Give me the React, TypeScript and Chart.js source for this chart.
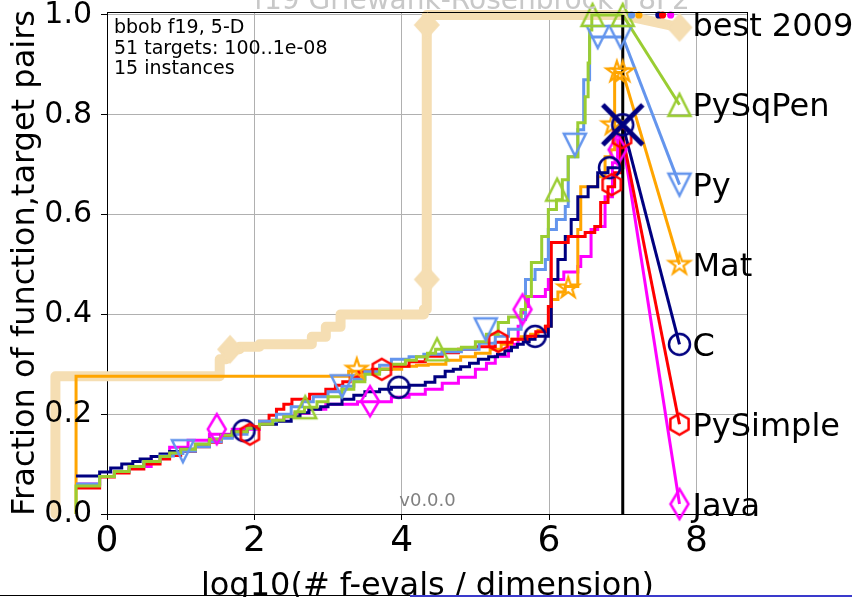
import React, { useEffect, useRef } from "react";
import { Chart, registerables } from "chart.js";

Chart.register(...registerables);

const FONT = '"DejaVu Sans", "Liberation Sans", sans-serif';

// ---- axes ----
const xTicks = [0, 2, 4, 6, 8];
const yTicks = [0, 0.2, 0.4, 0.6, 0.8, 1.0];
const X_MIN = 0;
const X_MAX = 8.7;
const Y_MIN = 0;
const Y_MAX = 1.006;
const BUDGET_X = 7.0;
const LABEL_X = 7.77;

// ---- series (log10 evals/dim, fraction) ----
const bestX = [-0.7, -0.7, 1.53, 1.62, 1.8, 2.07, 2.78, 2.97, 3.17, 4.3, 4.34, 7.0];
const bestY = [0, 0.276, 0.31, 0.33, 0.335, 0.34, 0.355, 0.375, 0.4, 0.41, 1.0, 1.0];
const bestMX = [1.67, 4.34, 4.34];
const bestMY = [0.33, 0.47, 0.98];

const pySqPenX = [-0.42, -0.42, -0.1, 0.1, 0.3, 0.5, 0.72, 0.85, 1.0, 1.2, 1.39, 1.55, 1.7, 1.9, 2.07, 2.25, 2.4, 2.55, 2.68, 2.85, 3.0, 3.19, 3.35, 3.5, 3.7, 3.86, 4.05, 4.2, 4.35, 4.46, 4.81, 5.0, 5.15, 5.31, 5.45, 5.62, 5.68, 5.76, 5.9, 5.99, 6.1, 6.18, 6.26, 6.39, 6.49, 6.53, 6.55, 6.58, 7.0];
const pySqPenY = [0, 0.056, 0.075, 0.085, 0.095, 0.105, 0.115, 0.122, 0.13, 0.14, 0.15, 0.158, 0.165, 0.172, 0.18, 0.188, 0.195, 0.205, 0.214, 0.225, 0.235, 0.25, 0.265, 0.28, 0.29, 0.3, 0.308, 0.315, 0.322, 0.33, 0.334, 0.345, 0.36, 0.384, 0.395, 0.41, 0.436, 0.504, 0.556, 0.61, 0.63, 0.67, 0.716, 0.784, 0.836, 0.904, 0.97, 1.0, 1.0];
const pySqPenMX = [2.69, 4.48, 6.11, 6.59, 7.0];
const pySqPenMY = [0.214, 0.33, 0.65, 1.0, 1.0];

const pyX = [-0.42, -0.1, 0.1, 0.3, 0.5, 0.72, 0.9, 1.03, 1.2, 1.39, 1.55, 1.7, 1.9, 2.07, 2.3, 2.5, 2.65, 2.8, 3.0, 3.19, 3.35, 3.5, 3.7, 3.86, 4.1, 4.3, 4.55, 4.81, 5.05, 5.27, 5.45, 5.62, 5.68, 5.81, 5.95, 5.99, 6.1, 6.22, 6.26, 6.39, 6.47, 6.55, 7.0];
const pyY = [0.06, 0.075, 0.085, 0.095, 0.105, 0.116, 0.121, 0.126, 0.135, 0.145, 0.152, 0.16, 0.172, 0.186, 0.2, 0.215, 0.225, 0.235, 0.245, 0.256, 0.27, 0.285, 0.298, 0.31, 0.315, 0.32, 0.325, 0.33, 0.342, 0.356, 0.37, 0.39, 0.47, 0.49, 0.51, 0.57, 0.59, 0.616, 0.716, 0.77, 0.87, 0.956, 0.956];
const pyMX = [1.03, 3.19, 5.14, 6.35, 6.66, 6.97];
const pyMY = [0.126, 0.256, 0.37, 0.74, 0.956, 0.956];

const matX = [-0.42, -0.42, 3.28, 3.5, 3.7, 4.0, 4.2, 4.36, 4.6, 4.8, 5.0, 5.2, 5.35, 5.49, 5.62, 5.75, 5.85, 5.95, 6.03, 6.12, 6.22, 6.39, 6.39, 6.43, 6.66, 6.76, 6.84, 6.89, 6.89, 7.0];
const matY = [0, 0.276, 0.286, 0.288, 0.29, 0.296, 0.298, 0.3, 0.308, 0.315, 0.322, 0.33, 0.34, 0.35, 0.355, 0.36, 0.368, 0.376, 0.43, 0.445, 0.456, 0.47, 0.57, 0.656, 0.676, 0.716, 0.73, 0.784, 0.885, 0.885];
const matMX = [3.39, 6.26, 6.86, 6.92, 7.0];
const matMY = [0.29, 0.453, 0.78, 0.886, 0.886];

const cX = [-0.42, -0.1, 0.05, 0.2, 0.35, 0.45, 0.6, 0.72, 0.85, 1.0, 1.2, 1.39, 1.55, 1.7, 1.9, 2.07, 2.3, 2.5, 2.62, 2.74, 2.9, 3.0, 3.19, 3.35, 3.5, 3.7, 3.86, 4.1, 4.32, 4.45, 4.59, 4.7, 4.8, 4.92, 5.04, 5.18, 5.3, 5.4, 5.49, 5.57, 5.65, 5.73, 5.81, 5.99, 6.03, 6.12, 6.22, 6.3, 6.39, 6.53, 6.66, 6.8, 7.0];
const cY = [0.076, 0.084, 0.092, 0.1, 0.105, 0.11, 0.115, 0.12, 0.125, 0.13, 0.14, 0.15, 0.158, 0.165, 0.172, 0.18, 0.186, 0.195, 0.203, 0.21, 0.215, 0.22, 0.23, 0.238, 0.245, 0.25, 0.254, 0.258, 0.264, 0.275, 0.286, 0.29, 0.295, 0.302, 0.31, 0.315, 0.32, 0.327, 0.334, 0.34, 0.345, 0.35, 0.356, 0.376, 0.47, 0.51, 0.556, 0.59, 0.636, 0.656, 0.684, 0.694, 0.78];
const cMX = [1.86, 3.96, 5.81, 6.82, 7.0];
const cMY = [0.167, 0.254, 0.356, 0.694, 0.78];

const pySimpleX = [-0.42, -0.1, 0.1, 0.3, 0.5, 0.72, 0.85, 1.0, 1.2, 1.39, 1.55, 1.7, 1.9, 2.07, 2.2, 2.3, 2.4, 2.51, 2.75, 2.97, 3.1, 3.2, 3.3, 3.42, 3.6, 3.86, 4.1, 4.32, 4.55, 4.77, 5.0, 5.27, 5.5, 5.7, 5.82, 5.95, 5.99, 6.03, 6.26, 6.49, 6.62, 6.7, 6.8, 6.89, 6.97, 7.0];
const pySimpleY = [0.052, 0.074, 0.082, 0.09, 0.1, 0.11, 0.117, 0.125, 0.135, 0.144, 0.155, 0.165, 0.175, 0.186, 0.198, 0.21, 0.22, 0.23, 0.24, 0.25, 0.258, 0.265, 0.275, 0.284, 0.29, 0.296, 0.305, 0.316, 0.323, 0.33, 0.335, 0.344, 0.35, 0.356, 0.365, 0.376, 0.416, 0.544, 0.556, 0.564, 0.576, 0.624, 0.656, 0.684, 0.756, 0.756];
const pySimpleMX = [1.94, 3.73, 5.31, 6.85, 6.99];
const pySimpleMY = [0.16, 0.29, 0.346, 0.66, 0.754];

const javaX = [-0.42, -0.1, 0.1, 0.3, 0.6, 0.85, 1.1, 1.39, 1.7, 2.07, 2.25, 2.4, 2.55, 2.74, 2.97, 3.4, 3.86, 4.1, 4.32, 4.55, 4.77, 5.0, 5.15, 5.27, 5.45, 5.58, 5.62, 5.68, 5.72, 5.95, 5.99, 6.2, 6.39, 6.43, 6.57, 6.66, 6.76, 6.86, 6.93, 7.0];
const javaY = [0.06, 0.075, 0.085, 0.095, 0.115, 0.134, 0.148, 0.16, 0.17, 0.18, 0.188, 0.195, 0.202, 0.21, 0.22, 0.225, 0.234, 0.24, 0.25, 0.262, 0.274, 0.29, 0.302, 0.316, 0.34, 0.376, 0.404, 0.416, 0.436, 0.45, 0.47, 0.485, 0.496, 0.516, 0.57, 0.576, 0.636, 0.704, 0.75, 0.75];
const javaMX = [1.49, 3.57, 5.64, 6.93];
const javaMY = [0.17, 0.226, 0.41, 0.73];

// cross marker on C at the budget
const crossX = [7.0];
const crossY = [0.78];

// small dots on the top edge
const dotX = [7.12, 7.22, 7.49, 7.54, 7.65];
const dotY = [1.0, 1.0, 1.0, 1.0, 1.0];

// right-hand labels
const labelNames = ["best 2009", "PySqPen", "Py", "Mat", "C", "PySimple", "Java"];
const labelYs = [0.98, 0.82, 0.66, 0.5, 0.34, 0.18, 0.02];

const infoLines = ["bbob f19, 5-D", "51 targets: 100..1e-08", "15 instances"];

const WHEAT = "#F5DEB3";
const GREEN = "#9ACD32";
const BLUE = "#6495ED";
const ORANGE = "#FFA500";
const NAVY = "#000080";
const RED = "#FF0000";
const MAGENTA = "#FF00FF";

function marker(kind: string, color: string, size: number, lw: number, fill = ""): HTMLCanvasElement {
  const pad = Math.ceil(lw) + 3;
  const dim = Math.ceil(size + 2 * pad);
  const c = document.createElement("canvas");
  c.width = dim;
  c.height = dim;
  const g = c.getContext("2d") as CanvasRenderingContext2D;
  const m = dim / 2;
  const r = size / 2;
  g.lineWidth = lw;
  g.strokeStyle = color;
  g.lineJoin = "miter";
  g.miterLimit = 4;
  g.beginPath();
  if (kind === "circle") {
    g.arc(m, m, r, 0, Math.PI * 2);
  } else if (kind === "triUp") {
    g.moveTo(m, m - r);
    g.lineTo(m + r, m + r);
    g.lineTo(m - r, m + r);
    g.closePath();
  } else if (kind === "triDown") {
    g.moveTo(m, m + r);
    g.lineTo(m + r, m - r);
    g.lineTo(m - r, m - r);
    g.closePath();
  } else if (kind === "hex") {
    for (let i = 0; i < 6; i++) {
      const a = -Math.PI / 2 + (i * Math.PI) / 3;
      const px = m + r * Math.cos(a);
      const py = m + r * Math.sin(a);
      if (i === 0) g.moveTo(px, py);
      else g.lineTo(px, py);
    }
    g.closePath();
  } else if (kind === "star") {
    for (let i = 0; i < 10; i++) {
      const a = -Math.PI / 2 + (i * Math.PI) / 5;
      const rr = i % 2 ? r * 0.381966 : r;
      const px = m + rr * Math.cos(a);
      const py = m + rr * Math.sin(a);
      if (i === 0) g.moveTo(px, py);
      else g.lineTo(px, py);
    }
    g.closePath();
  } else if (kind === "thinDiamond") {
    g.moveTo(m, m - r);
    g.lineTo(m + r * 0.6, m);
    g.lineTo(m, m + r);
    g.lineTo(m - r * 0.6, m);
    g.closePath();
  } else if (kind === "diamond") {
    g.moveTo(m, m - r);
    g.lineTo(m + r * 0.9, m);
    g.lineTo(m, m + r);
    g.lineTo(m - r * 0.9, m);
    g.closePath();
  } else if (kind === "x") {
    g.lineCap = "butt";
    g.moveTo(m - r, m - r);
    g.lineTo(m + r, m + r);
    g.moveTo(m + r, m - r);
    g.lineTo(m - r, m + r);
  }
  if (fill) {
    g.fillStyle = fill;
    g.fill();
  }
  g.stroke();
  return c;
}

const pts = (xs: number[], ys: number[]) => xs.map((x, i) => ({ x, y: ys[i] }));

export default function App() {
  const ref = useRef<HTMLCanvasElement>(null);

  useEffect(() => {
    document.body.style.margin = "0";
    const canvas = ref.current as HTMLCanvasElement;

    const series = [
      { xs: pySqPenX, ys: pySqPenY, mx: pySqPenMX, my: pySqPenMY, color: GREEN, mk: marker("triUp", GREEN, 22, 2.5), ly: labelYs[1], ord: 10 },
      { xs: pyX, ys: pyY, mx: pyMX, my: pyMY, color: BLUE, mk: marker("triDown", BLUE, 22, 2.5), ly: labelYs[2], ord: 11 },
      { xs: pySimpleX, ys: pySimpleY, mx: pySimpleMX, my: pySimpleMY, color: RED, mk: marker("hex", RED, 21, 2.5), ly: labelYs[5], ord: 12 },
      { xs: cX, ys: cY, mx: cMX, my: cMY, color: NAVY, mk: marker("circle", NAVY, 21, 2.5), ly: labelYs[4], ord: 13 },
      { xs: matX, ys: matY, mx: matMX, my: matMY, color: ORANGE, mk: marker("star", ORANGE, 22, 2.2), ly: labelYs[3], ord: 14 },
      { xs: javaX, ys: javaY, mx: javaMX, my: javaMY, color: MAGENTA, mk: marker("thinDiamond", MAGENTA, 30, 2.5), ly: labelYs[6], ord: 15 },
    ];

    const datasets: any[] = [];
    const bestMk = marker("diamond", WHEAT, 26, 2, WHEAT);

    // best 2009
    datasets.push({
      data: pts(bestX, bestY),
      borderColor: WHEAT,
      borderWidth: 10,
      borderJoinStyle: "round",
      borderCapStyle: "round",
      stepped: "before",
      pointRadius: 0,
      clip: false,
      order: 99,
    });
    datasets.push({
      data: [
        { x: bestX[bestX.length - 1], y: bestY[bestY.length - 1] },
        { x: LABEL_X, y: labelYs[0] - 0.005 },
      ],
      borderColor: WHEAT,
      borderWidth: 10,
      borderCapStyle: "round",
      pointRadius: [0, 10],
      pointStyle: bestMk,
      clip: false,
      order: 98,
    });
    datasets.push({
      data: pts(bestMX, bestMY),
      showLine: false,
      pointRadius: 10,
      pointStyle: bestMk,
      clip: false,
      order: 97,
    });

    for (const s of series) {
      datasets.push({
        data: pts(s.xs, s.ys),
        borderColor: s.color,
        borderWidth: 3,
        stepped: "before",
        pointRadius: 0,
        clip: false,
        order: s.ord,
      });
      datasets.push({
        data: [
          { x: s.xs[s.xs.length - 1], y: s.ys[s.ys.length - 1] },
          { x: LABEL_X, y: s.ly },
        ],
        borderColor: s.color,
        borderWidth: 3,
        pointRadius: [0, 10],
        pointStyle: s.mk,
        clip: false,
        order: s.ord - 5,
      });
      datasets.push({
        data: pts(s.mx, s.my),
        showLine: false,
        pointRadius: 10,
        pointStyle: s.mk,
        clip: false,
        order: 3,
      });
    }

    // budget line
    datasets.push({
      data: [
        { x: BUDGET_X, y: 0 },
        { x: BUDGET_X, y: 1.0 },
      ],
      borderColor: "#000",
      borderWidth: 3,
      pointRadius: 0,
      clip: false,
      order: 4,
    });

    // cross marker
    datasets.push({
      data: pts(crossX, crossY),
      showLine: false,
      pointRadius: 10,
      pointStyle: marker("x", NAVY, 40, 5),
      clip: false,
      order: 1,
    });

    // top dots
    datasets.push({
      data: pts(dotX, dotY),
      showLine: false,
      pointRadius: 3.6,
      pointStyle: "circle",
      backgroundColor: [BLUE, ORANGE, NAVY, RED, MAGENTA],
      borderWidth: 0,
      clip: false,
      order: 2,
    });

    const textPlugin = {
      id: "cocoTexts",
      afterDraw(chart: any) {
        const { ctx, chartArea: a } = chart;
        const xs = chart.scales.x;
        const ys = chart.scales.y;
        ctx.save();
        // frame (top + right)
        ctx.strokeStyle = "#000";
        ctx.lineWidth = 1;
        ctx.beginPath();
        ctx.moveTo(a.left, Math.round(a.top) + 0.5);
        ctx.lineTo(a.right, Math.round(a.top) + 0.5);
        ctx.moveTo(Math.round(a.right) - 0.5, a.top);
        ctx.lineTo(Math.round(a.right) - 0.5, a.bottom);
        ctx.stroke();

        // info text
        ctx.fillStyle = "#000";
        ctx.font = `19px ${FONT}`;
        ctx.textAlign = "left";
        ctx.textBaseline = "alphabetic";
        infoLines.forEach((t, i) => ctx.fillText(t, a.left + 7, a.top + 21 + i * 20.7));

        // version
        ctx.fillStyle = "#808080";
        ctx.font = `18px ${FONT}`;
        ctx.textAlign = "center";
        ctx.fillText("v0.0.0", (a.left + a.right) / 2, a.bottom - 8);

        // right labels
        ctx.fillStyle = "#000";
        ctx.font = `32px ${FONT}`;
        ctx.textAlign = "left";
        const lx = xs.getPixelForValue(LABEL_X) + 13;
        labelNames.forEach((t, i) => {
          ctx.fillText(t, lx, ys.getPixelForValue(labelYs[i]) + 11.5);
        });

        // x title
        ctx.textAlign = "center";
        ctx.fillText("log10(# f-evals / dimension)", (a.left + a.right) / 2, 595);

        // y title
        ctx.save();
        ctx.font = `32px ${FONT}`;
        ctx.translate(34, (a.top + a.bottom) / 2);
        ctx.rotate(-Math.PI / 2);
        ctx.textAlign = "center";
        ctx.fillText("Fraction of function,target pairs", 0, 0);
        ctx.restore();

        // title (mostly outside of the picture)
        ctx.fillStyle = "#c8c8c8";
        ctx.font = `28px ${FONT}`;
        ctx.textAlign = "center";
        ctx.fillText("f19 Griewank-Rosenbrock F8F2", 472, 9);
        ctx.restore();
      },
    };

    const chart = new Chart(canvas, {
      type: "line",
      data: { datasets },
      options: {
        animation: false,
        responsive: false,
        devicePixelRatio: 1,
        events: [],
        layout: { autoPadding: false, padding: { left: 0, top: 12, right: 104, bottom: 0 } },
        plugins: { legend: { display: false }, tooltip: { enabled: false } },
        elements: { point: { radius: 0 }, line: { tension: 0 } },
        scales: {
          x: {
            type: "linear",
            bounds: "data",
            afterDataLimits: (s: any) => {
              s.min = X_MIN;
              s.max = X_MAX;
            },
            afterBuildTicks: (s: any) => {
              s.ticks = xTicks.map((v) => ({ value: v }));
            },
            afterFit: (s: any) => {
              s.height = 83;
              s.paddingLeft = 0;
              s.paddingRight = 0;
              s.paddingTop = 0;
              s.paddingBottom = 0;
            },
            grid: { color: "#b0b0b0", lineWidth: 1, tickColor: "#000", tickLength: 6, drawTicks: true },
            border: { color: "#000", width: 1 },
            ticks: {
              font: { family: FONT, size: 36 },
              color: "#000",
              padding: 0,
              maxRotation: 0,
              autoSkip: false,
              z: 1,
              callback: (v: any) => String(v),
            },
          },
          y: {
            type: "linear",
            bounds: "data",
            afterDataLimits: (s: any) => {
              s.min = Y_MIN;
              s.max = Y_MAX;
            },
            afterBuildTicks: (s: any) => {
              s.ticks = yTicks.map((v) => ({ value: v }));
            },
            afterFit: (s: any) => {
              s.width = 107;
              s.paddingLeft = 0;
              s.paddingRight = 0;
              s.paddingTop = 0;
              s.paddingBottom = 0;
            },
            grid: { color: "#b0b0b0", lineWidth: 1, tickColor: "#000", tickLength: 6, drawTicks: true },
            border: { color: "#000", width: 1 },
            ticks: {
              font: { family: FONT, size: 30 },
              color: "#000",
              padding: 9,
              autoSkip: false,
              z: 1,
              callback: (v: any) => Number(v).toFixed(1),
            },
          },
        },
      },
      plugins: [textPlugin],
    } as any);

    return () => chart.destroy();
  }, []);

  return (
    <div style={{ position: "fixed", left: 0, top: 0, width: 852, height: 597, overflow: "hidden", background: "#fff" }}>
      <canvas ref={ref} width={852} height={597} style={{ display: "block", width: 852, height: 597 }} />
      <div style={{ position: "absolute", left: 0, top: 595, width: 410, height: 1, background: "#000" }} />
      <div style={{ position: "absolute", left: 410, top: 595, width: 442, height: 2, background: "#3a3acc" }} />
    </div>
  );
}
